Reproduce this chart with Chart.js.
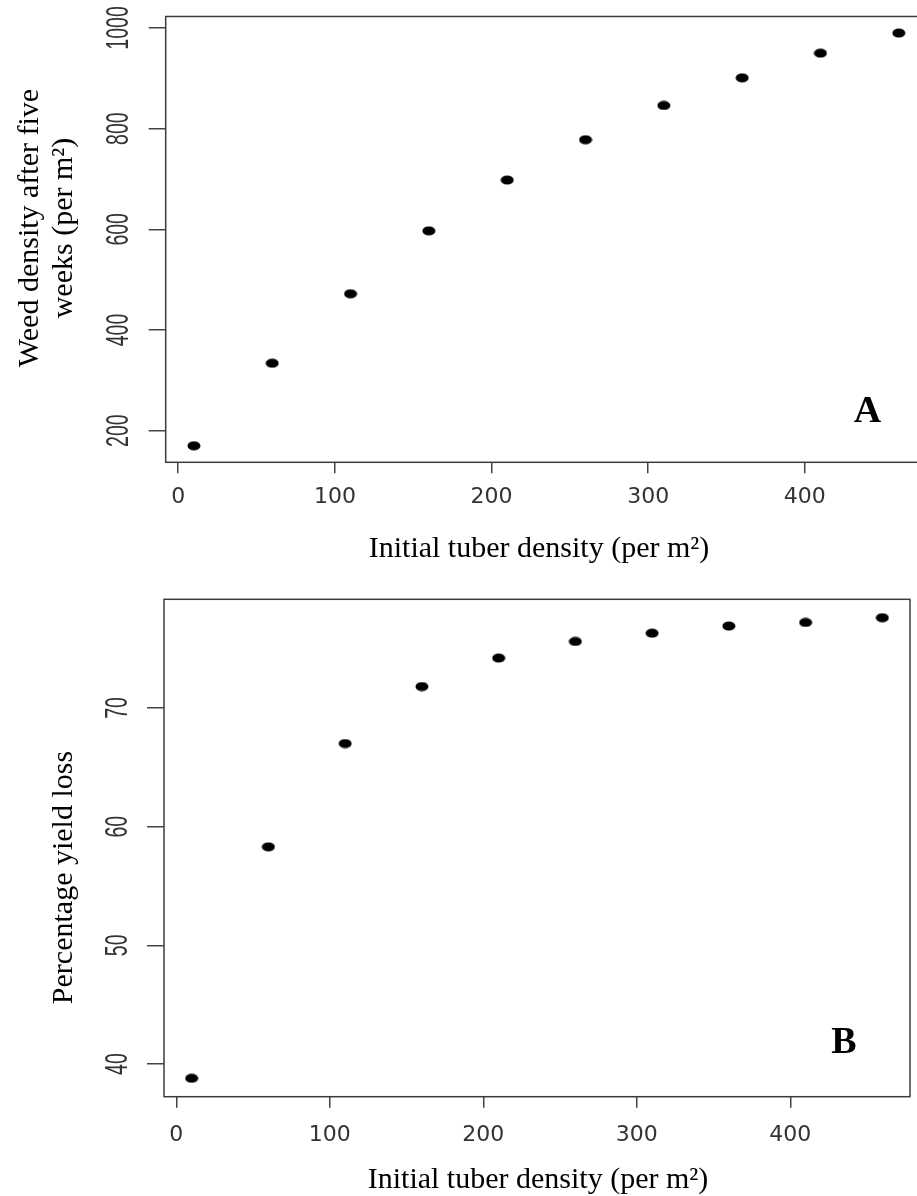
<!DOCTYPE html>
<html>
<head>
<meta charset="utf-8">
<script src="https://cdn.jsdelivr.net/npm/chart.js@4.4.1/dist/chart.umd.min.js"></script>
<style>
  html, body { margin: 0; padding: 0; background: #fff; overflow: hidden; }
  #wrap { position: relative; width: 917px; height: 1196px; overflow: hidden; }
  canvas { position: absolute; left: 0; }
  #chartA { top: 0; }
  #chartB { top: 580px; }
</style>
</head>
<body>
<div id="wrap">
  <canvas id="chartA" width="935" height="580"></canvas>
  <canvas id="chartB" width="917" height="616"></canvas>
</div>
<script>
// Values
const tuberDensity = [10, 60, 110, 160, 210, 260, 310, 360, 410, 460];
const weedDensity = [170, 334, 472, 597, 698, 778, 846, 901, 950, 990];
const yieldLoss = [38.8, 58.3, 67.0, 71.8, 74.2, 75.6, 76.3, 76.9, 77.2, 77.6];

// Tick labels
const xTicks = [0, 100, 200, 300, 400];
const weedTicks = [200, 400, 600, 800, 1000];
const lossTicks = [40, 50, 60, 70];

// Axis titles
const xTitle = 'Initial tuber density (per m²)';
const weedTitle = ['Weed density after five', 'weeks (per m²)'];
const lossTitle = ['Percentage yield loss'];

// Small black ellipse used as the point marker (R's pch 16 after stretching)
const dot = document.createElement('canvas');
dot.width = 14;
dot.height = 10;
const dctx = dot.getContext('2d');
dctx.fillStyle = '#000';
dctx.beginPath();
dctx.ellipse(7, 5, 6.5, 4.5, 0, 0, 2 * Math.PI);
dctx.fill();

// Draws the box, rotated y labels, axis titles and the panel letter
const framePlugin = {
  id: 'frame',
  afterDraw(chart, args, opts) {
    const { ctx, chartArea: a, scales } = chart;
    ctx.save();
    ctx.strokeStyle = '#3c3c3c';
    ctx.lineWidth = 1.5;
    ctx.strokeRect(a.left, a.top, a.right - a.left, a.bottom - a.top);

    // y tick labels, parallel to the axis
    ctx.fillStyle = '#333';
    ctx.font = '31px "Liberation Sans", Arial, sans-serif';
    ctx.textAlign = 'center';
    ctx.textBaseline = 'alphabetic';
    scales.y.ticks.forEach(t => {
      ctx.save();
      ctx.translate(opts.yLabelX, scales.y.getPixelForValue(t.value));
      ctx.rotate(-Math.PI / 2);
      ctx.scale(0.63, 1);
      ctx.fillText(String(t.value), 0, 0);
      ctx.restore();
    });

    // axis titles
    ctx.fillStyle = '#000';
    ctx.font = '30px "Liberation Serif", "Times New Roman", serif';
    ctx.fillText(xTitle, opts.xTitle[0], opts.xTitle[1]);
    opts.yTitle.forEach((line, i) => {
      ctx.save();
      ctx.translate(opts.yTitleX[i], opts.yTitleY);
      ctx.rotate(-Math.PI / 2);
      ctx.fillText(line, 0, 0);
      ctx.restore();
    });

    // panel letter
    ctx.font = 'bold 38px "Liberation Serif", "Times New Roman", serif';
    ctx.fillText(opts.letter,
      scales.x.getPixelForValue(opts.letterAt[0]),
      scales.y.getPixelForValue(opts.letterAt[1]));
    ctx.restore();
  }
};

const makePanel = (id, yValues, yTicks, yRange, p) => {
  const ctx = document.getElementById(id).getContext('2d');
  return new Chart(ctx, {
    type: 'scatter',
    data: {
      datasets: [{
        data: tuberDensity.map((x, i) => ({ x: x, y: yValues[i] })),
        pointStyle: dot,
        pointRadius: 6
      }]
    },
    options: {
      responsive: false,
      animation: false,
      events: [],
      layout: { padding: { top: p.top, right: p.right, left: 0, bottom: 0 } },
      plugins: {
        legend: { display: false },
        tooltip: { enabled: false },
        frame: p.frame
      },
      scales: {
        x: {
          type: 'linear',
          min: -8,
          max: 478,
          afterBuildTicks: s => { s.ticks = xTicks.map(v => ({ value: v })); },
          afterFit: s => { s.height = p.xHeight; },
          border: { display: false },
          grid: { drawOnChartArea: false, tickLength: 11, color: '#444', lineWidth: 1.5 },
          ticks: {
            autoSkip: false,
            maxRotation: 0,
            color: '#333',
            padding: p.xPad,
            font: { family: 'DejaVu Sans', size: 22, lineHeight: 1 }
          }
        },
        y: {
          type: 'linear',
          min: yRange[0],
          max: yRange[1],
          afterBuildTicks: s => { s.ticks = yTicks.map(v => ({ value: v })); },
          afterFit: s => { s.width = p.yWidth; },
          border: { display: false },
          grid: { drawOnChartArea: false, tickLength: 17, color: '#444', lineWidth: 1.5 },
          ticks: { display: false }
        }
      }
    },
    plugins: [framePlugin]
  });
};

// Panel A: weed density
makePanel('chartA', weedDensity, weedTicks, [137.2, 1022.8], {
  top: 16.5, right: 8, xHeight: 117.7, yWidth: 165.7, xPad: 13,
  frame: {
    yLabelX: 128,
    xTitle: [539, 556.7],
    yTitle: weedTitle, yTitleX: [38, 72], yTitleY: 228,
    letter: 'A', letterAt: [440, 217]
  }
});

// Panel B: yield loss
makePanel('chartB', yieldLoss, lossTicks, [37.25, 79.15], {
  top: 19.3, right: 1, xHeight: 99.3, yWidth: 164, xPad: 17,
  frame: {
    yLabelX: 127,
    xTitle: [538, 608],
    yTitle: lossTitle, yTitleX: [72], yTitleY: 297.5,
    letter: 'B', letterAt: [435, 40.9]
  }
});
</script>
</body>
</html>
